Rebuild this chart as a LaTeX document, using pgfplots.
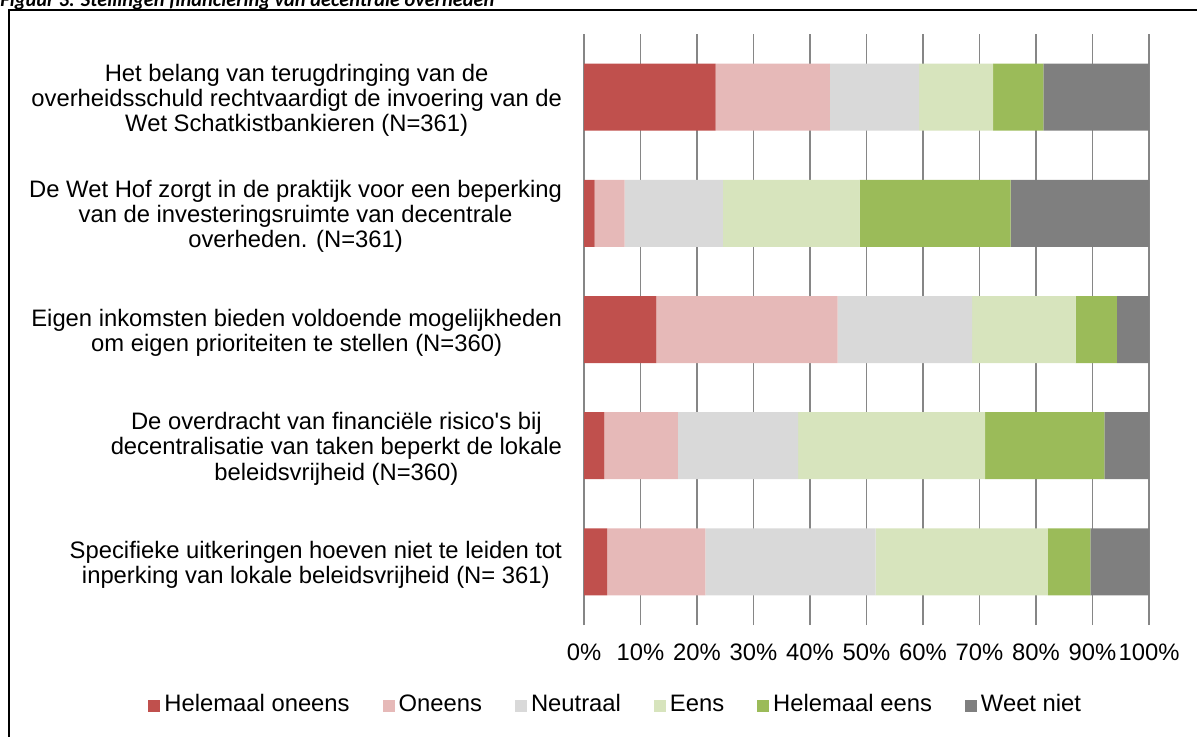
\documentclass[border=0pt]{standalone}
\usepackage{fontspec}
\setmainfont{Liberation Sans}
\newfontfamily\titlefont{Carlito}
\usepackage{pgfplots}
\pgfplotsset{compat=1.18}
\definecolor{c1}{HTML}{C0504D}
\definecolor{c2}{HTML}{E6B9B8}
\definecolor{c3}{HTML}{D9D9D9}
\definecolor{c4}{HTML}{D7E4BD}
\definecolor{c5}{HTML}{9BBB59}
\definecolor{c6}{HTML}{7F7F7F}
\definecolor{gridc}{HTML}{868686}
\newcommand{\lf}{\fontsize{11.9}{12.6}\selectfont}
\begin{document}
\begin{tikzpicture}
\useasboundingbox (0,0) rectangle (598.5pt,-368pt);
\node[anchor=base west, inner sep=0pt] at (0pt,-3.4pt) {\titlefont\bfseries\itshape\fontsize{10.2}{12}\selectfont Figuur 3: Stellingen financiering van decentrale overheden};
\draw[line width=1pt] (4.5pt,-400pt) -- (4.5pt,-5pt) -- (640pt,-5pt);
\begin{axis}[
  at={(292pt,-310pt)}, anchor=south west,
  scale only axis, width=282.5pt, height=290.5pt,
  xbar stacked, bar width=33.5pt,
  xmin=0, xmax=100, ymin=0.5, ymax=5.5, y dir=reverse,
  xtick={0,10,...,100},
  xticklabels={0\%,10\%,20\%,30\%,40\%,50\%,60\%,70\%,80\%,90\%,100\%},
  ytick={1,2,3,4,5},
  yticklabels={
    {Het belang van terugdringing van de\\overheidsschuld rechtvaardigt de invoering van de\\Wet Schatkistbankieren (N=361)},
    {De Wet Hof zorgt in de praktijk voor een beperking\\van de investeringsruimte van decentrale\\overheden. (N=361)},
    {Eigen inkomsten bieden voldoende mogelijkheden\\om eigen prioriteiten te stellen (N=360)},
    {De overdracht van financiële risico\textquotesingle s bij\\decentralisatie van taken beperkt de lokale\\beleidsvrijheid (N=360)},
    {Specifieke uitkeringen hoeven niet te leiden tot\\inperking van lokale beleidsvrijheid (N= 361)}},
  yticklabel style={align=center, font=\lf, xshift=-5pt, yshift=-1.5pt},
  xticklabel style={font=\lf, yshift=-6pt},
  xmajorgrids, grid style={draw=gridc, line width=0.9pt},
  axis line style={draw=none},
  tick align=outside, major tick length=2.5pt,
  xtick style={draw=gridc, line width=0.9pt},
  ytick style={draw=none},
  legend columns=6,
  legend cell align=left,
  legend style={draw=none, fill=none, at={(0.058,-0.148)}, anchor=center, font=\lf,
    nodes={text height=0.72em, text depth=0.22em},
    /tikz/every even column/.append style={column sep=14.5pt},
    /tikz/every odd column/.append style={column sep=0pt}},
  legend image code/.code={\fill[#1] (0pt,-3pt) rectangle (6pt,3pt);},
]
\addplot[fill=c1, draw=none] coordinates {(23.3,1) (1.9,2) (12.8,3) (3.6,4) (4.1,5)};
\addplot[fill=c2, draw=none] coordinates {(20.2,1) (5.3,2) (32.1,3) (13.0,4) (17.4,5)};
\addplot[fill=c3, draw=none] coordinates {(15.8,1) (17.4,2) (23.8,3) (21.3,4) (30.1,5)};
\addplot[fill=c4, draw=none] coordinates {(13.1,1) (24.2,2) (18.3,3) (33.1,4) (30.5,5)};
\addplot[fill=c5, draw=none] coordinates {(8.9,1) (26.7,2) (7.3,3) (21.1,4) (7.5,5)};
\addplot[fill=c6, draw=none] coordinates {(18.7,1) (24.5,2) (5.7,3) (7.9,4) (10.4,5)};
\legend{Helemaal oneens, Oneens, Neutraal, Eens, Helemaal eens, Weet niet}
\end{axis}
\end{tikzpicture}
\end{document}
